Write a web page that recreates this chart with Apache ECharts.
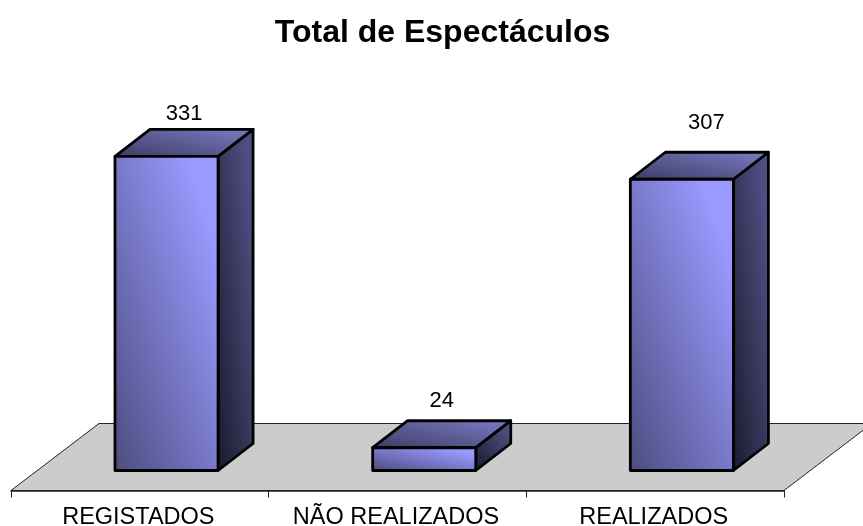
<!DOCTYPE html>
<html>
<head>
<meta charset="utf-8">
<title>Total de Espectáculos</title>
<script src="https://cdn.jsdelivr.net/npm/echarts@6/dist/echarts.min.js"></script>
<style>
  html, body { margin: 0; padding: 0; background: #fff; }
  #chart { width: 863px; height: 526px; }
</style>
</head>
<body>
<div id="chart"></div>
<script>
const categories = ['REGISTADOS', 'NÃO REALIZADOS', 'REALIZADOS']
const values = [331, 24, 307]

const chart = echarts.init(document.getElementById('chart'), null, { renderer: 'canvas' })

// fake 3D: depth of the box and of the floor, in pixels
const boxDepth = { x: 35, y: 27 }
const floorDepth = { x: 88, y: 67 }
const floorDrop = 20
const barShift = 26.7
// the value labels do not sit at the same spot above their boxes
const labelLift = [16, 20, 29]
const labelNudge = [0, 0, 7]

// shading runs corner to corner of the face, whatever its proportions
function faceGradient(x, y, w, h, from, to, lightAt) {
  const k = (2 * w * h) / (w * w + h * h)
  return new echarts.graphic.LinearGradient(
    x,
    y + h,
    x + h * k,
    y + h - w * k,
    [
      { offset: 0, color: from },
      { offset: lightAt, color: to },
      { offset: 1, color: to }
    ],
    true
  )
}

function renderFloor(params, api) {
  const cs = params.coordSys
  const front = cs.y + cs.height + floorDrop
  const left = cs.x
  const right = cs.x + cs.width
  const back = front - floorDepth.y
  return {
    type: 'polygon',
    shape: { points: [[left, front], [left + floorDepth.x, back], [right + floorDepth.x, back], [right, front]] },
    style: { fill: '#cccccc', stroke: '#222', lineWidth: 1 }
  }
}

function renderBox(params, api) {
  const top = api.coord([api.value(0), api.value(1)])
  const base = api.coord([api.value(0), 0])
  const w = api.size([1, 0])[0] * 0.4
  const x0 = top[0] + barShift - w / 2
  const x1 = x0 + w
  const y0 = top[1]
  const y1 = base[1]
  const h = y1 - y0
  const dx = boxDepth.x
  const dy = boxDepth.y
  const edge = { stroke: '#000', lineWidth: 2.8, lineJoin: 'round' }
  return {
    type: 'group',
    children: [
      {
        type: 'polygon',
        shape: { points: [[x1, y0], [x1 + dx, y0 - dy], [x1 + dx, y1 - dy], [x1, y1]] },
        style: { fill: faceGradient(x1, y0 - dy, dx, h + dy, '#1a1a2e', '#4d4d80', 0.85), ...edge }
      },
      {
        type: 'polygon',
        shape: { points: [[x0, y0], [x0 + dx, y0 - dy], [x1 + dx, y0 - dy], [x1, y0]] },
        style: { fill: faceGradient(x0, y0 - dy, w + dx, dy, '#3d3d66', '#7878c0', 0.95), ...edge }
      },
      {
        type: 'rect',
        shape: { x: x0, y: y0, width: w, height: h },
        style: { fill: faceGradient(x0, y0, w, h, '#4d4d80', '#9999ff', 0.85), ...edge }
      },
      {
        type: 'text',
        style: {
          text: String(api.value(1)),
          x: x0 + w / 2 + dx / 2 + labelNudge[params.dataIndex],
          y: y0 - dy - labelLift[params.dataIndex],
          align: 'center',
          verticalAlign: 'middle',
          fill: '#000',
          font: '22px "Liberation Sans"'
        }
      }
    ]
  }
}

chart.setOption({
  animation: false,
  backgroundColor: '#fff',
  title: {
    text: 'Total de Espectáculos',
    left: 437.5,
    textAlign: 'center',
    top: 12,
    textStyle: { fontFamily: 'Liberation Sans', fontSize: 32, fontWeight: 'bold', color: '#000' }
  },
  grid: { left: 11, right: 79, top: 91, bottom: 55.5, outerBoundsMode: 'none' },
  xAxis: {
    type: 'category',
    data: categories,
    offset: floorDrop,
    z: 5,
    axisLine: { onZero: false, lineStyle: { color: '#222', width: 1.5 } },
    axisTick: { show: true, alignWithLabel: false, interval: 0, length: 7, lineStyle: { color: '#222', width: 1 } },
    axisLabel: { interval: 0, margin: 15, padding: [0, 3, 0, 0], color: '#000', fontFamily: 'Liberation Sans', fontSize: 23.5 }
  },
  yAxis: { type: 'value', min: 0, max: 400, show: false },
  series: [
    { type: 'custom', name: 'piso', z: 1, silent: true, clip: false, renderItem: renderFloor, data: [[0, 0]] },
    {
      type: 'custom',
      name: 'Total de Espectáculos',
      z: 3,
      silent: true,
      clip: false,
      renderItem: renderBox,
      data: values.map((v, i) => [i, v])
    }
  ]
})
</script>
</body>
</html>
